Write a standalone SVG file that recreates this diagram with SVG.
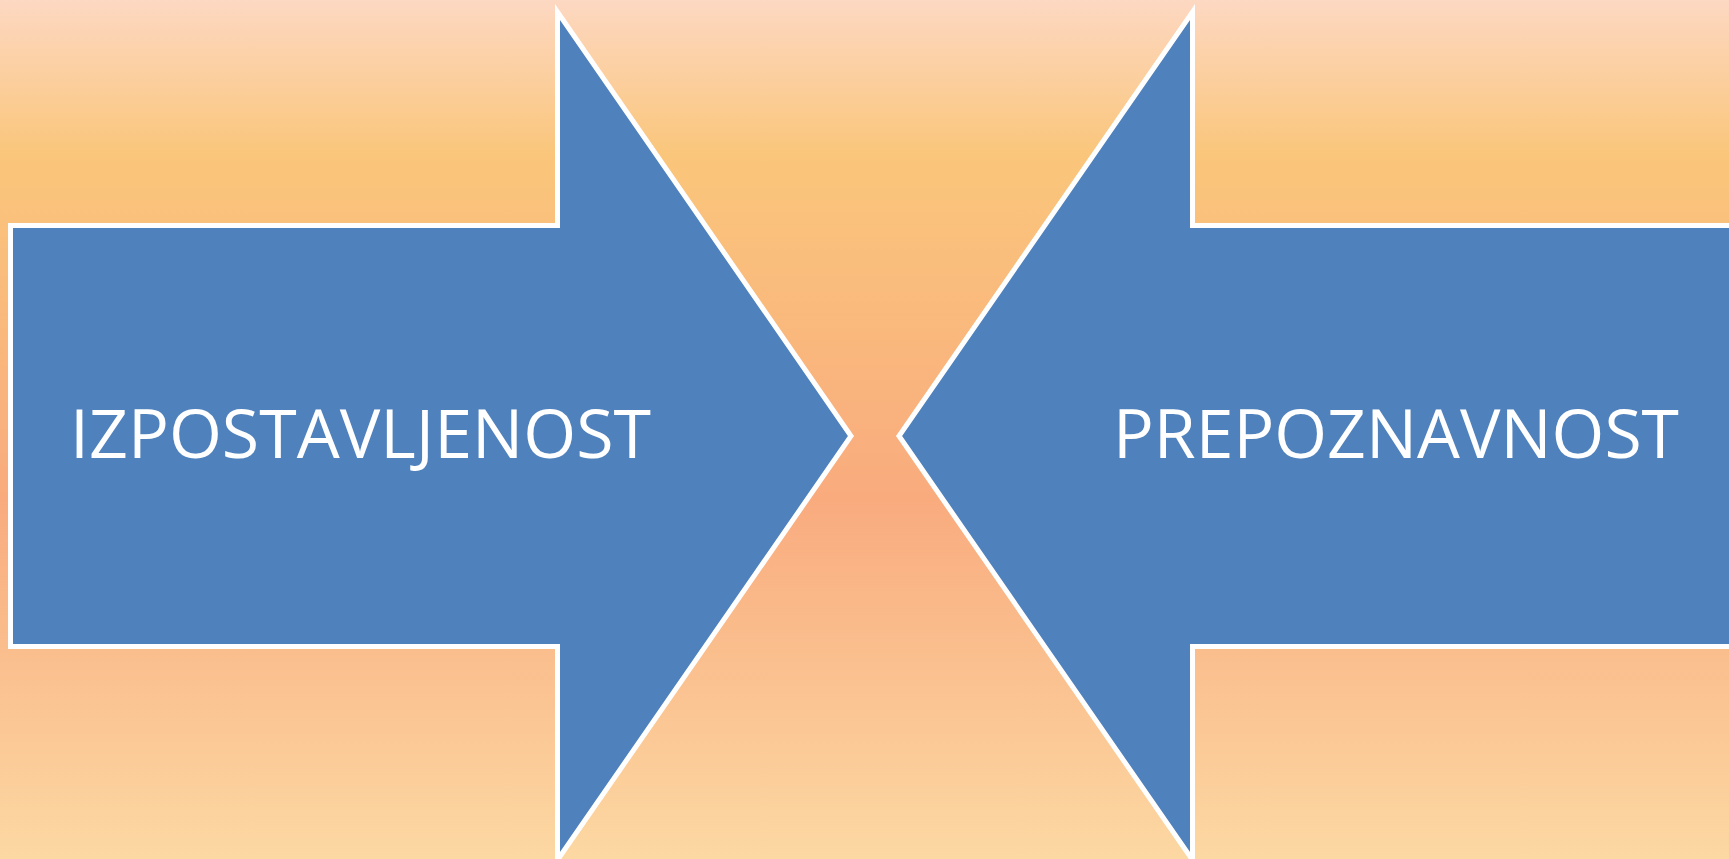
<svg xmlns="http://www.w3.org/2000/svg" width="1729" height="859" viewBox="0 0 1729 859">
<defs>
<linearGradient id="bg" x1="0" y1="0" x2="0" y2="1">
<stop offset="0" stop-color="#FDD8C2"/>
<stop offset="0.18" stop-color="#FAC67B"/>
<stop offset="0.58" stop-color="#F9AB7E"/>
<stop offset="1" stop-color="#FCD8A2"/>
</linearGradient>
</defs>
<style>
.arrow{fill:#4F81BD;stroke:#FFFFFF;stroke-width:5;stroke-linejoin:miter;stroke-miterlimit:10}
.lbl{fill:#FFFFFF;font-family:"Open Sans","Noto Sans",sans-serif;font-size:68px}
</style>
<rect x="0" y="0" width="1729" height="859" fill="url(#bg)"/>
<g id="connectors"></g>
<g id="node-izpostavljenost">
<polygon class="arrow" points="10.5,225.5 557.5,225.5 557.5,12 851,436 557.5,860 557.5,646.5 10.5,646.5"/>
<text class="lbl" x="70" y="458" textLength="581" lengthAdjust="spacingAndGlyphs">IZPOSTAVLJENOST</text>
</g>
<g id="node-prepoznavnost">
<polygon class="arrow" points="1745,225.5 1192.5,225.5 1192.5,12 899,436 1192.5,860 1192.5,646.5 1745,646.5"/>
<text class="lbl" x="1113" y="458" textLength="566" lengthAdjust="spacingAndGlyphs">PREPOZNAVNOST</text>
</g>
</svg>
